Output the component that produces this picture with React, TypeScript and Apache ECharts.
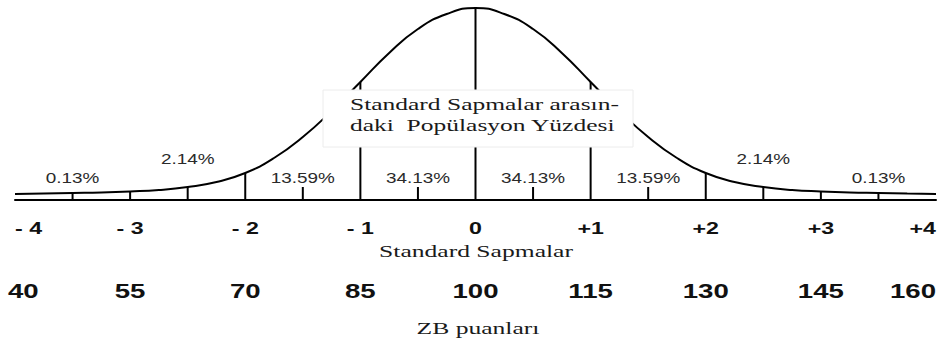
import React, { useEffect, useRef } from "react";
import * as echarts from "echarts";

// ---- data ----
const sdTicks = [-4, -3, -2, -1, 0, 1, 2, 3, 4];
const sdLabels = ["- 4", "- 3", "- 2", "- 1", "0", "+1", "+2", "+3", "+4"];
const scoreLabels = ["40", "55", "70", "85", "100", "115", "130", "145", "160"];

// curve height (px-scale units above the baseline) at quarter standard deviations
const curveZ = [
  -4, -3.75, -3.5, -3.25, -3, -2.75, -2.5, -2.25, -2, -1.75, -1.5, -1.25, -1, -0.75, -0.5, -0.25, 0,
  0.25, 0.5, 0.75, 1, 1.25, 1.5, 1.75, 2, 2.25, 2.5, 2.75, 3, 3.25, 3.5, 3.75, 4,
];
const curveH = [
  6, 6.5, 7, 7.5, 8.5, 10, 13, 18, 27, 42, 63, 89, 118, 147, 171, 186, 192,
  186, 171, 147, 118, 89, 63, 42, 27, 18, 13, 10, 8.5, 7.5, 7, 6.5, 6,
];

// vertical lines at whole standard deviations, up to the curve
const majorZ = [-3, -2, -1, 0, 1, 2, 3];
const majorH = [8.5, 27, 118, 192, 118, 27, 8.5];

// short ticks at half standard deviations
const halfZ = [-3.5, -2.5, -1.5, -0.5, 0.5, 1.5, 2.5, 3.5];
const halfH = [7, 13, 13, 13, 13, 13, 13, 7];

// population percentages between the standard deviations
const pctLabels = ["0.13%", "2.14%", "13.59%", "34.13%", "34.13%", "13.59%", "2.14%", "0.13%"];

const boxLine1 = "Standard Sapmalar arasın-";
const boxLine2 = "daki  Popülasyon Yüzdesi";
const axisTitle = "Standard Sapmalar";
const scoreTitle = "ZB puanları";

export default function App() {
  const ref = useRef<HTMLDivElement>(null);

  useEffect(() => {
    if (!ref.current) return;
    const chart = echarts.init(ref.current, undefined, { renderer: "svg" });

    const serif = "'Liberation Serif', 'Times New Roman', 'DejaVu Serif', serif";
    const sans = "'Liberation Sans', Arial, sans-serif";

    const vLine = (params: any, api: any) => {
      const p0 = api.coord([api.value(0), 0]);
      const p1 = api.coord([api.value(0), api.value(1)]);
      return {
        type: "line",
        shape: { x1: p0[0], y1: p0[1], x2: p1[0], y2: p1[1] },
        style: { stroke: "#000", lineWidth: 2 },
      };
    };

    const serifText = (text: string, x: number, y: number, size: number, sx: number, align: string) => ({
      type: "text",
      z: 101,
      x,
      y,
      scaleX: sx,
      style: {
        text,
        font: `normal ${size}px ${serif}`,
        fill: "#1a1a1a",
        align,
        verticalAlign: "middle",
      },
    });

    chart.setOption({
      animation: false,
      backgroundColor: "#fff",
      grid: { left: 15, right: 5, top: 0, height: 200, containLabel: false },
      xAxis: {
        type: "value",
        min: -4,
        max: 4,
        interval: 1,
        axisLine: { show: true, onZero: false, lineStyle: { color: "#000", width: 2 } },
        axisTick: { show: false },
        axisLabel: { show: false },
        splitLine: { show: false },
      },
      yAxis: {
        type: "value",
        min: 0,
        max: 200,
        show: false,
      },
      series: [
        {
          type: "line",
          data: curveZ.map((z, i) => [z, curveH[i]]),
          smooth: true,
          showSymbol: false,
          clip: false,
          lineStyle: { color: "#000", width: 2 },
          z: 3,
        },
        {
          type: "custom",
          data: majorZ.map((z, i) => [z, majorH[i]]),
          renderItem: vLine,
          clip: false,
          z: 3,
        },
        {
          type: "custom",
          data: halfZ.map((z, i) => [z, halfH[i]]),
          renderItem: vLine,
          clip: false,
          z: 3,
        },
        {
          // percentages
          type: "custom",
          data: halfZ.map((z) => [z, 0]),
          clip: false,
          z: 4,
          renderItem: (params: any, api: any) => {
            const z = api.value(0);
            const lift = Math.abs(z) === 2.5 ? 41 : 22;
            const p = api.coord([z, lift]);
            return {
              type: "text",
              x: p[0],
              y: p[1],
              scaleX: 1.35,
              style: {
                text: pctLabels[params.dataIndex],
                font: `normal 14px ${sans}`,
                fill: "#2a2a2a",
                align: "center",
                verticalAlign: "middle",
              },
            };
          },
        },
        {
          // standard deviation labels
          type: "custom",
          data: sdTicks.map((z) => [z, 0]),
          clip: false,
          z: 4,
          renderItem: (params: any, api: any) => {
            const p = api.coord([api.value(0), 0]);
            const i = params.dataIndex;
            const align = i === 0 ? "left" : i === sdTicks.length - 1 ? "right" : "center";
            return {
              type: "text",
              x: p[0],
              y: p[1] + 28,
              scaleX: 1.45,
              style: {
                text: sdLabels[i],
                font: `bold 16px ${sans}`,
                fill: "#111",
                align,
                verticalAlign: "middle",
              },
            };
          },
        },
        {
          // score labels
          type: "custom",
          data: sdTicks.map((z) => [z, 0]),
          clip: false,
          z: 4,
          renderItem: (params: any, api: any) => {
            const p = api.coord([api.value(0), 0]);
            const i = params.dataIndex;
            const align = i === 0 ? "left" : i === sdTicks.length - 1 ? "right" : "center";
            return {
              type: "text",
              x: i === 0 ? p[0] - 7 : p[0],
              y: p[1] + 91,
              scaleX: 1.38,
              style: {
                text: scoreLabels[i],
                font: `bold 20px ${sans}`,
                fill: "#111",
                align,
                verticalAlign: "middle",
              },
            };
          },
        },
      ],
      graphic: {
        elements: [
          {
            type: "rect",
            z: 100,
            shape: { x: 323, y: 90, width: 310, height: 57 },
            style: { fill: "#fff", stroke: "#ececec", lineWidth: 1 },
          },
          serifText(boxLine1, 350, 105, 17, 1.5, "left"),
          serifText(boxLine2, 350, 126, 17, 1.5, "left"),
          serifText(axisTitle, 476, 252, 16, 1.6, "center"),
          serifText(scoreTitle, 478, 329, 16, 1.6, "center"),
        ],
      },
    });

    return () => chart.dispose();
  }, []);

  return (
    <div
      ref={ref}
      style={{ position: "fixed", left: 0, top: 0, width: 941, height: 344, background: "#fff" }}
    />
  );
}
